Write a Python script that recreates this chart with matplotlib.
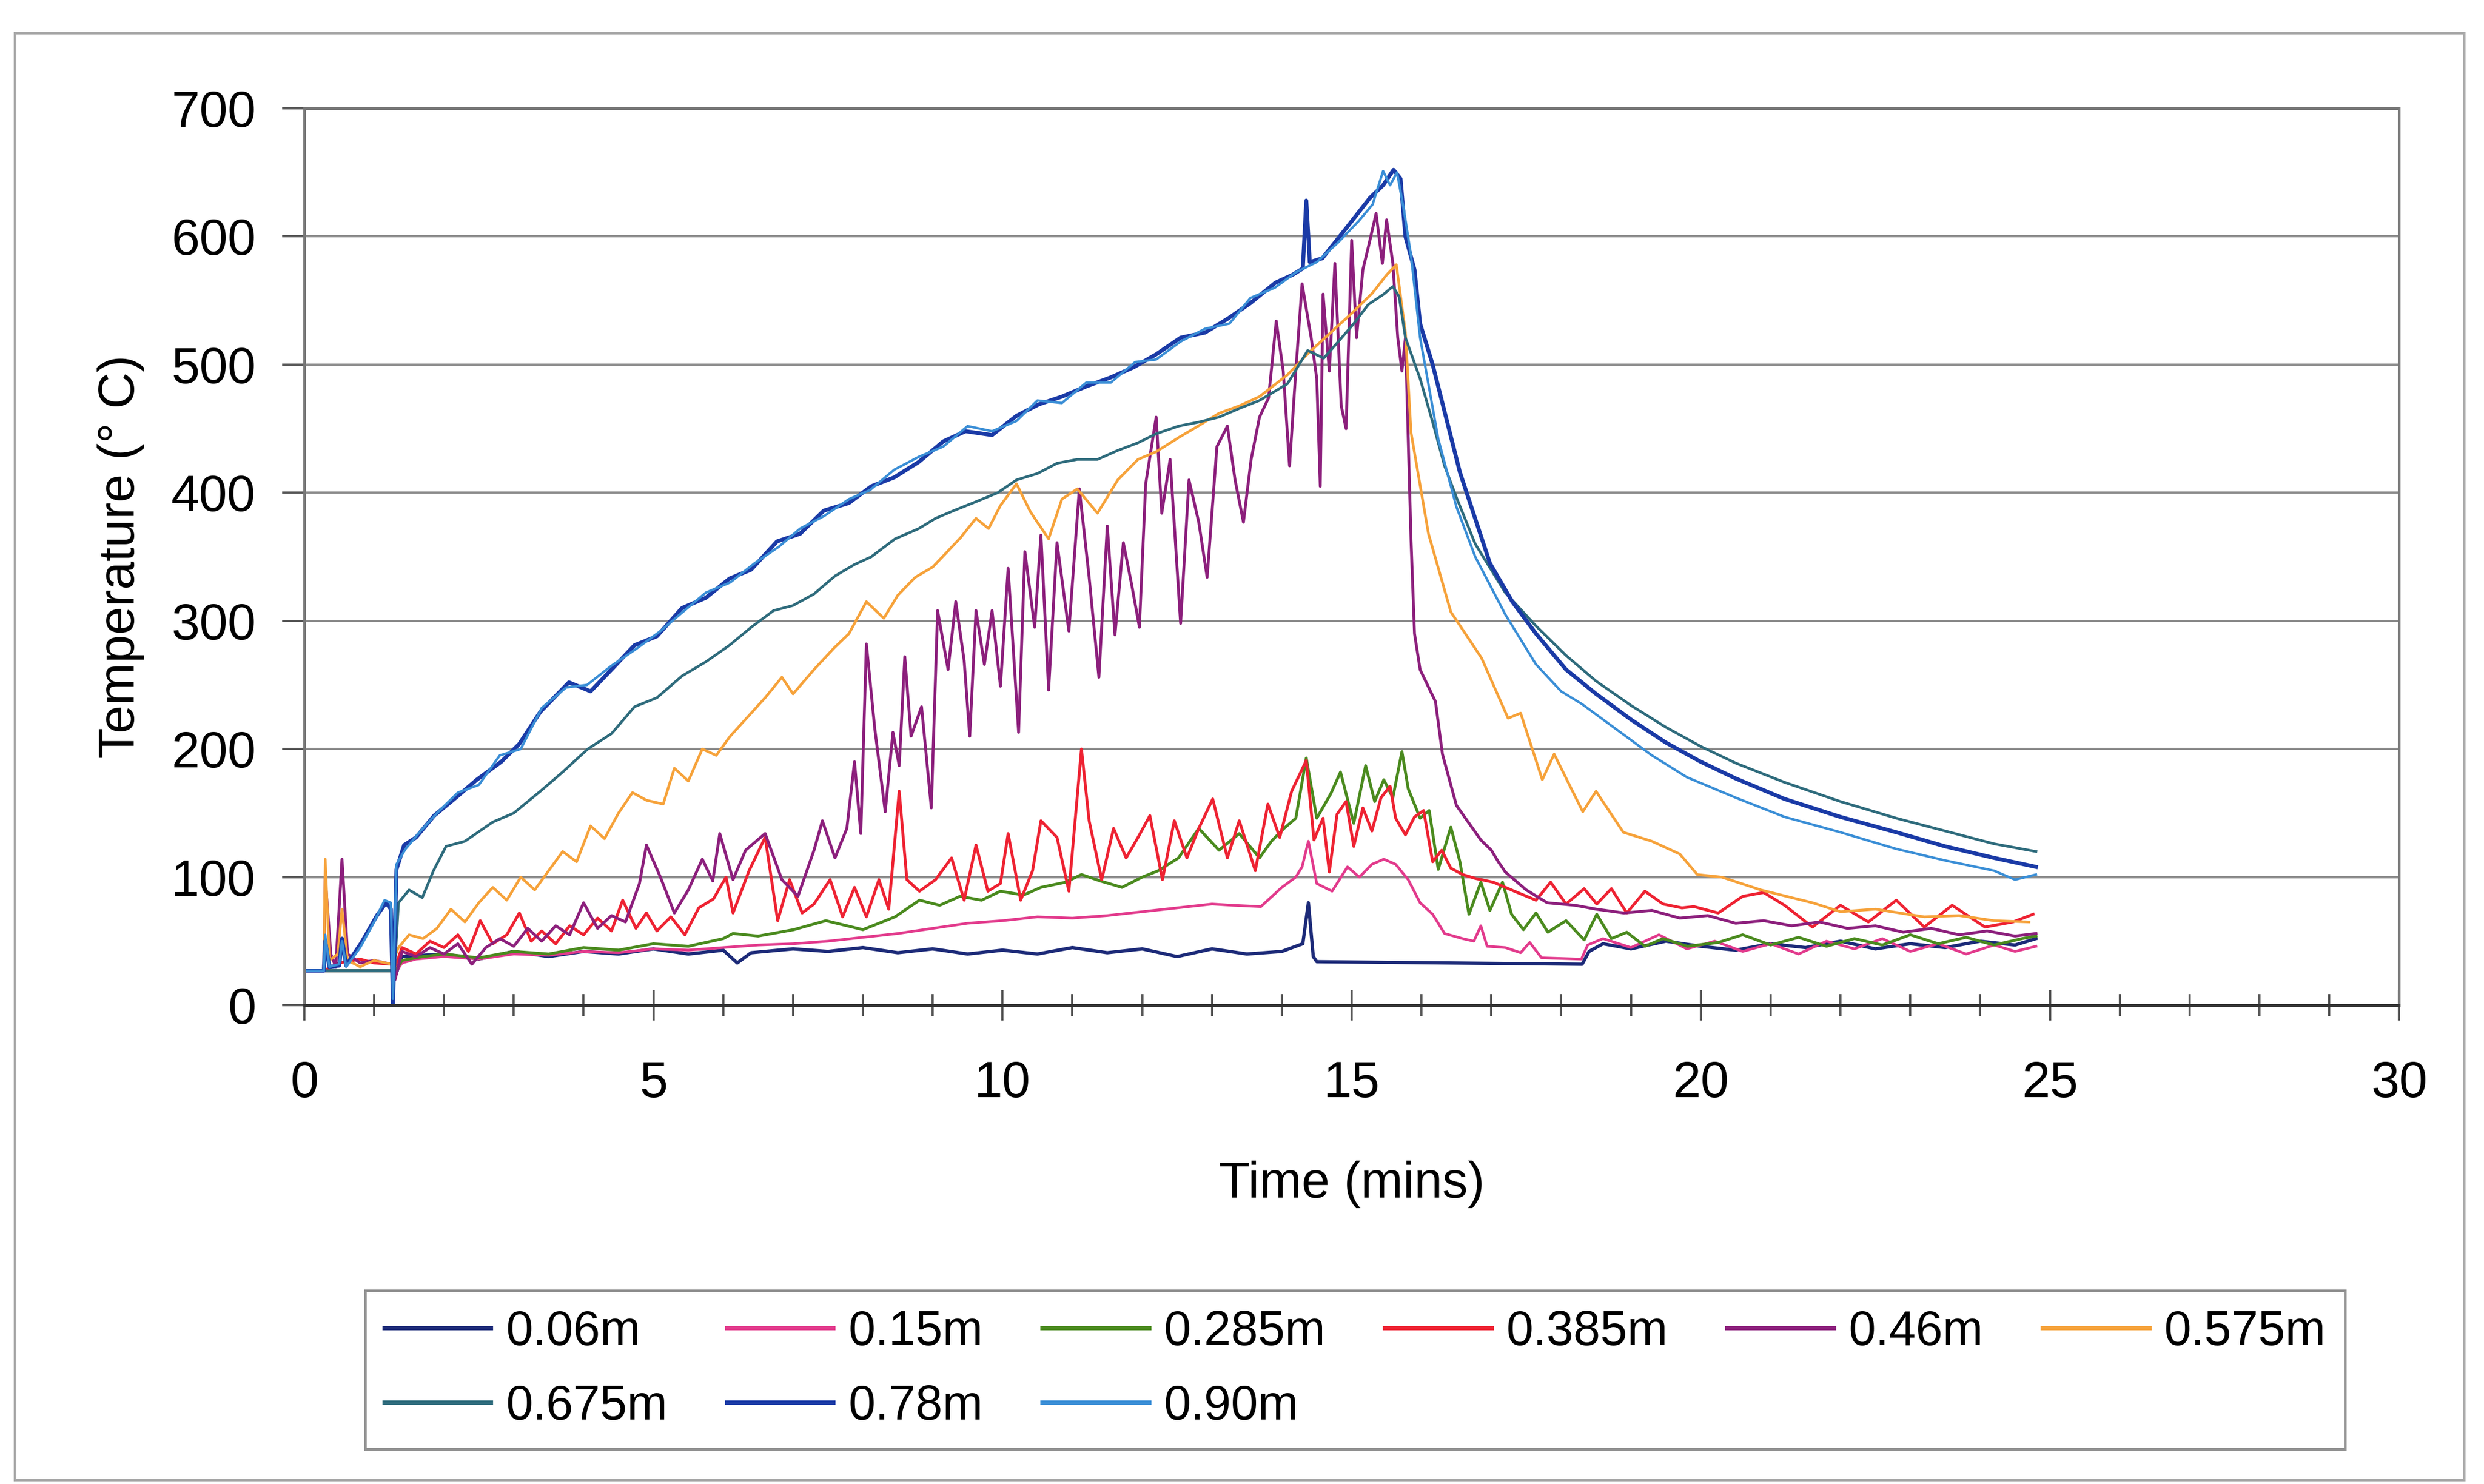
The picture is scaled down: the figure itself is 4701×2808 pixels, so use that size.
import matplotlib
matplotlib.use("Agg")
import matplotlib.pyplot as plt
from matplotlib.patches import Rectangle

plt.rcParams["font.family"] = ["Liberation Sans", "DejaVu Sans"]

# thermocouple heights and line colours
labels = ["0.06m", "0.15m", "0.285m", "0.385m", "0.46m", "0.575m", "0.675m", "0.78m", "0.90m"]
colors = ["#1c2a78", "#e23a8c", "#4a8a1e", "#ee2232", "#8c1f7c", "#f6a23a", "#2e6b7c", "#1a3aa6", "#3a8ed6"]

# time (mins) / temperature (deg C)
t_006 = [0, 1.25, 1.3, 1.4, 2.0, 2.5, 3.0, 3.5, 4.0, 4.5, 5.0, 5.5, 6.0, 6.2, 6.4, 7.0, 7.5, 8.0, 8.5, 9.0,
         9.5, 10.0, 10.5, 11.0, 11.5, 12.0, 12.5, 13.0, 13.5, 14.0, 14.3, 14.38, 14.45, 14.5, 18.3, 18.4,
         18.6, 19.0, 19.5, 20.0, 20.5, 21.0, 21.5, 22.0, 22.5, 23.0, 23.5, 24.0, 24.5, 24.8]
v_006 = [27, 27, 22, 38, 40, 36, 42, 38, 42, 40, 44, 40, 43, 33, 41, 44, 42, 45, 41, 44,
         40, 43, 40, 45, 41, 44, 38, 44, 40, 42, 48, 80, 38, 34, 32, 42,
         48, 44, 50, 46, 43, 48, 45, 50, 44, 48, 45, 50, 47, 52]

t_015 = [0, 1.25, 1.3, 1.4, 1.6, 2.0, 2.5, 3.0, 3.5, 4.0, 4.5, 5.0, 5.5, 6.0, 6.5, 7.0, 7.5, 8.0, 8.5,
         9.0, 9.5, 10.0, 10.5, 11.0, 11.5, 12.0, 12.5, 13.0, 13.3, 13.7, 14.0, 14.2, 14.29, 14.38, 14.5,
         14.72, 14.94, 15.11, 15.29, 15.46, 15.63, 15.81, 15.98, 16.16, 16.33, 16.59, 16.75, 16.85, 16.94,
         17.2, 17.42, 17.55, 17.72, 18.29, 18.38, 18.6, 19.0, 19.4, 19.8, 20.2, 20.6, 21.0, 21.4, 21.8,
         22.2, 22.6, 23.0, 23.4, 23.8, 24.2, 24.5, 24.8]
v_015 = [27, 27, 25, 33, 36, 38, 36, 40, 39, 42, 41, 44, 43, 45, 47, 48, 50, 53, 56,
         60, 64, 66, 69, 68, 70, 73, 76, 79, 78, 77, 92, 100, 108, 128, 95,
         89, 108, 100, 110, 114, 110, 98, 80, 71, 56, 52, 50, 62, 46,
         45, 41, 49, 37, 36, 47, 52, 45, 55, 44, 50, 42, 48, 40, 50,
         44, 52, 42, 48, 40, 47, 42, 46]

t_0285 = [0, 1.25, 1.3, 1.4, 1.7, 2.0, 2.5, 3.0, 3.5, 4.0, 4.5, 5.0, 5.5, 6.0, 6.14, 6.5, 7.01, 7.47, 8.0,
          8.46, 8.81, 9.1, 9.39, 9.7, 9.97, 10.3, 10.55, 10.9, 11.13, 11.4, 11.71, 12.0, 12.23, 12.52,
          12.81, 13.1, 13.39, 13.68, 13.85, 14.03, 14.2, 14.35, 14.5, 14.7, 14.84, 15.03, 15.2, 15.33,
          15.46, 15.59, 15.72, 15.81, 15.98, 16.11, 16.24, 16.42, 16.55, 16.68, 16.85, 16.98, 17.16,
          17.29, 17.46, 17.64, 17.81, 18.07, 18.33, 18.51, 18.72, 18.94, 19.2, 19.46, 19.81, 20.25,
          20.6, 21.0, 21.4, 21.8, 22.2, 22.6, 23.0, 23.4, 23.8, 24.2, 24.6, 24.8]
v_0285 = [27, 27, 26, 35, 38, 40, 37, 42, 40, 45, 43, 48, 46, 52, 56, 54, 59, 66, 59,
          69, 82, 78, 85, 82, 89, 86, 92, 96, 102, 97, 92, 100, 105, 115,
          138, 121, 134, 115, 128, 138, 146, 193, 146, 165, 182, 142, 187, 159,
          176, 162, 198, 169, 146, 152, 106, 139, 112, 71, 96, 74, 96,
          71, 59, 72, 57, 66, 51, 71, 52, 57, 46, 52, 46, 49,
          55, 47, 53, 46, 52, 47, 55, 48, 53, 47, 52, 54]

t_0385 = [0, 0.28, 0.5, 0.8, 1.0, 1.25, 1.3, 1.4, 1.6, 1.8, 2.0, 2.2, 2.35, 2.52, 2.7, 2.9, 3.08, 3.25,
          3.4, 3.6, 3.8, 4.0, 4.2, 4.4, 4.56, 4.75, 4.9, 5.05, 5.25, 5.45, 5.65, 5.86, 6.04, 6.14, 6.37,
          6.6, 6.78, 6.95, 7.13, 7.3, 7.53, 7.71, 7.88, 8.05, 8.23, 8.37, 8.52, 8.63, 8.81, 9.04, 9.27,
          9.45, 9.62, 9.79, 9.97, 10.08, 10.26, 10.43, 10.55, 10.78, 10.95, 11.13, 11.24, 11.42, 11.59,
          11.77, 11.94, 12.11, 12.29, 12.46, 12.64, 12.81, 13.01, 13.22, 13.39, 13.62, 13.8, 13.97,
          14.14, 14.35, 14.46, 14.59, 14.68, 14.79, 14.92, 15.03, 15.16, 15.29, 15.42, 15.55, 15.63,
          15.77, 15.9, 16.03, 16.16, 16.29, 16.42, 16.59, 16.77, 17.03, 17.33, 17.64, 17.85, 18.07,
          18.33, 18.51, 18.72, 18.94, 19.2, 19.46, 19.73, 19.9, 20.25, 20.6, 20.9, 21.2, 21.6, 22.0,
          22.4, 22.8, 23.2, 23.6, 24.07, 24.47, 24.76]
v_0385 = [27, 27, 33, 36, 33, 32, 30, 45, 40, 50, 45, 55, 42, 66, 48, 55, 72, 50,
          58, 48, 62, 55, 68, 58, 82, 60, 72, 58, 69, 55, 76, 83, 100, 72, 105,
          131, 66, 98, 72, 79, 98, 69, 92, 69, 98, 75, 167, 98, 89, 98, 115,
          82, 125, 89, 95, 134, 82, 105, 144, 131, 89, 200, 144, 98, 138,
          115, 131, 148, 98, 144, 115, 138, 161, 115, 144, 105, 157, 131,
          167, 191, 129, 146, 104, 149, 159, 124, 154, 136, 162, 171, 146,
          133, 147, 152, 112, 121, 107, 102, 99, 96, 89, 82, 96, 79,
          91, 79, 91, 72, 89, 79, 76, 77, 72, 85, 88, 78, 61, 78,
          65, 82, 61, 78, 61, 65, 71]

t_046 = [0, 0.28, 0.3, 0.38, 0.45, 0.54, 0.62, 0.8, 1.0, 1.25, 1.3, 1.4, 1.6, 1.8, 2.0, 2.2, 2.4, 2.6, 2.8,
         3.0, 3.2, 3.4, 3.6, 3.8, 4.0, 4.2, 4.4, 4.6, 4.8, 4.9, 5.1, 5.3, 5.5, 5.7, 5.85, 5.95, 6.14,
         6.32, 6.6, 6.84, 7.07, 7.3, 7.42, 7.6, 7.77, 7.88, 7.97, 8.05, 8.17, 8.32, 8.43, 8.52, 8.6,
         8.69, 8.84, 8.98, 9.07, 9.22, 9.33, 9.45, 9.53, 9.62, 9.74, 9.85, 9.97, 10.08, 10.23, 10.32,
         10.46, 10.55, 10.66, 10.78, 10.95, 11.1, 11.24, 11.38, 11.5, 11.61, 11.73, 11.85, 11.96, 12.05,
         12.2, 12.28, 12.4, 12.55, 12.67, 12.81, 12.93, 13.07, 13.22, 13.33, 13.45, 13.56, 13.68, 13.81,
         13.92, 14.02, 14.11, 14.2, 14.29, 14.42, 14.5, 14.55, 14.59, 14.68, 14.76, 14.85, 14.92, 15.0,
         15.07, 15.16, 15.24, 15.35, 15.44, 15.5, 15.59, 15.66, 15.72, 15.77, 15.81, 15.85, 15.9, 15.98,
         16.2, 16.3, 16.5, 16.85, 17.0, 17.1, 17.2, 17.5, 17.8, 18.2, 18.5, 18.9, 19.3, 19.7, 20.1, 20.5,
         20.9, 21.3, 21.7, 22.1, 22.5, 22.9, 23.3, 23.7, 24.1, 24.5, 24.8]
v_046 = [27, 27, 100, 40, 30, 114, 40, 33, 35, 32, 20, 42, 38, 45, 40, 48, 32, 45, 52,
         46, 60, 50, 62, 55, 80, 60, 70, 65, 95, 125, 100, 72, 90, 114, 97, 134, 98,
         121, 134, 98, 85, 121, 144, 115, 138, 190, 134, 282, 216, 151, 213, 187, 272,
         210, 233, 154, 308, 262, 315, 269, 210, 308, 266, 308, 249, 341, 213, 354,
         295, 367, 246, 361, 292, 403, 334, 256, 374, 289, 361, 328, 295, 407,
         459, 384, 426, 298, 410, 377, 334, 436, 452, 410, 377, 426, 459, 474,
         534, 495, 421, 495, 563, 521, 489, 405, 555, 495, 579, 468, 450, 597,
         521, 574, 592, 618, 579, 613, 579, 521, 495, 521, 442, 363, 290, 262,
         237, 196, 156, 129, 121, 112, 104, 90, 80, 78, 75, 72, 74, 68, 70, 64,
         66, 62, 65, 60, 62, 57, 60, 55, 58, 54, 56]

t_0575 = [0, 0.28, 0.3, 0.36, 0.48, 0.54, 0.62, 0.8, 1.0, 1.25, 1.35, 1.5, 1.7, 1.9, 2.1, 2.3, 2.5, 2.7,
          2.9, 3.1, 3.3, 3.5, 3.7, 3.9, 4.1, 4.3, 4.5, 4.7, 4.9, 5.14, 5.3, 5.5, 5.7, 5.9, 6.1, 6.4, 6.6,
          6.84, 7.0, 7.3, 7.59, 7.8, 8.05, 8.3, 8.5, 8.75, 9.0, 9.21, 9.4, 9.62, 9.8, 9.97, 10.2, 10.4,
          10.66, 10.85, 11.07, 11.36, 11.65, 11.94, 12.2, 12.52, 12.8, 13.1, 13.4, 13.68, 14.08, 14.4,
          14.7, 15.0, 15.3, 15.5, 15.64, 15.77, 15.85, 16.1, 16.42, 16.86, 17.24, 17.42, 17.73, 17.9,
          18.31, 18.5, 18.89, 19.3, 19.7, 19.95, 20.3, 20.86, 21.3, 21.6, 22.0, 22.5, 23.2, 23.7, 24.2,
          24.7]
v_0575 = [27, 27, 114, 35, 40, 75, 35, 30, 35, 32, 45, 55, 52, 60, 75, 65, 80, 92,
          82, 100, 90, 105, 120, 112, 140, 130, 150, 166, 160, 157, 185, 175, 200, 195, 210, 228, 240,
          256, 243, 262, 279, 290, 315, 302, 320, 334, 342, 354, 365, 380, 372, 390, 407, 385,
          364, 395, 403, 384, 410, 426, 432, 443, 452, 462, 468, 475, 492, 510,
          525, 540, 556, 570, 578, 525, 447, 368, 307, 271, 224, 228, 176, 196,
          151, 167, 135, 128, 118, 102, 100, 90, 84, 80, 73, 75, 69, 70, 66,
          65]

t_0675 = [0, 1.25, 1.28, 1.35, 1.5, 1.69, 1.85, 2.03, 2.3, 2.7, 3.0, 3.38, 3.7, 4.06, 4.4, 4.73, 5.05,
          5.41, 5.75, 6.09, 6.4, 6.72, 7.0, 7.3, 7.6, 7.88, 8.12, 8.46, 8.8, 9.04, 9.3, 9.62, 9.93, 10.2,
          10.5, 10.78, 11.07, 11.36, 11.65, 11.94, 12.2, 12.52, 12.8, 13.1, 13.4, 13.68, 14.08, 14.37,
          14.6, 14.81, 15.03, 15.24, 15.46, 15.59, 15.68, 15.77, 15.98, 16.16, 16.33, 16.51, 16.77, 17.2,
          17.64, 18.07, 18.5, 19.0, 19.5, 20.0, 20.5, 21.2, 22.0, 22.8, 23.5, 24.2, 24.8]
v_0675 = [27, 27, 15, 80, 90, 84, 105, 124, 128, 143, 150, 167, 182, 200, 212, 233, 240,
          257, 268, 281, 295, 308, 312, 321, 335, 344, 350, 364, 372, 380, 386, 393, 400, 410,
          415, 423, 426, 426, 433, 439, 446, 452, 455, 459, 466, 472, 485, 511,
          505, 518, 532, 547, 555, 561, 553, 521, 489, 455, 421, 395, 360, 322,
          296, 273, 253, 234, 217, 202, 189, 174, 159, 146, 136, 126, 120]

t_078 = [0, 0.28, 0.3, 0.36, 0.5, 0.54, 0.6, 0.82, 1.04, 1.17, 1.24, 1.27, 1.32, 1.43, 1.6, 1.86, 2.17,
         2.47, 2.82, 3.08, 3.38, 3.79, 4.1, 4.4, 4.73, 5.05, 5.41, 5.75, 6.09, 6.4, 6.77, 7.1, 7.44, 7.8,
         8.12, 8.45, 8.8, 9.15, 9.47, 9.85, 10.2, 10.52, 10.85, 11.2, 11.55, 11.88, 12.2, 12.55, 12.9,
         13.23, 13.55, 13.91, 14.15, 14.3, 14.35, 14.4, 14.58, 14.93, 15.26, 15.45, 15.6, 15.7, 15.77,
         15.9, 15.98, 16.16, 16.55, 16.98, 17.3, 17.64, 18.07, 18.5, 19.0, 19.5, 20.0, 20.5, 21.2, 22.0,
         22.8, 23.5, 24.2, 24.8]
v_078 = [27, 27, 50, 30, 31, 52, 31, 49, 70, 80, 75, 0, 106, 125, 131, 148, 162,
         176, 190, 204, 229, 252, 245, 262, 281, 288, 310, 318, 333, 340, 362, 368, 386, 392,
         405, 412, 424, 440, 448, 445, 460, 469, 475, 483, 490, 498, 508, 521, 525,
         536, 548, 564, 570, 575, 628, 580, 583, 607, 630, 640, 652, 645, 600,
         574, 532, 500, 416, 345, 315, 290, 262, 243, 223, 205, 190, 177, 161, 147,
         135, 124, 115, 108]

t_090 = [0, 0.28, 0.3, 0.36, 0.5, 0.54, 0.6, 0.8, 1.0, 1.15, 1.24, 1.27, 1.32, 1.45, 1.65, 1.9, 2.2, 2.5,
         2.8, 3.1, 3.4, 3.75, 4.05, 4.4, 4.75, 5.1, 5.4, 5.75, 6.1, 6.45, 6.8, 7.1, 7.45, 7.8, 8.1, 8.45,
         8.8, 9.15, 9.5, 9.85, 10.2, 10.5, 10.85, 11.2, 11.55, 11.9, 12.2, 12.55, 12.9, 13.25, 13.55,
         13.9, 14.2, 14.5, 14.8, 15.1, 15.3, 15.45, 15.55, 15.65, 15.75, 15.85, 15.98, 16.24, 16.5,
         16.77, 17.2, 17.64, 18.0, 18.3, 18.8, 19.3, 19.8, 20.5, 21.2, 22.0, 22.8, 23.5, 24.2, 24.5, 24.8]
v_090 = [27, 27, 55, 30, 32, 50, 30, 45, 65, 82, 80, 5, 110, 122, 135, 150, 166, 172,
         195, 200, 232, 248, 250, 265, 278, 292, 306, 322, 330, 345, 358, 372, 382, 395, 402, 418,
         428, 436, 452, 448, 456, 472, 470, 486, 486, 502, 504, 518, 528, 532, 552,
         560, 572, 580, 595, 612, 625, 651, 640, 650, 620, 585, 521, 442, 389,
         350, 305, 266, 245, 235, 215, 195, 178, 162, 147, 135, 122, 113, 105, 98, 102]

series_t = [t_006, t_015, t_0285, t_0385, t_046, t_0575, t_0675, t_078, t_090]
series_v = [v_006, v_015, v_0285, v_0385, v_046, v_0575, v_0675, v_078, v_090]
widths = [1.5, 1.2, 1.3, 1.3, 1.3, 1.2, 1.2, 1.8, 1.1]

fig = plt.figure(figsize=(15.67, 9.36), dpi=300)
ax = fig.add_axes([0.1225, 0.3226, 0.8433, 0.6044])

handles = {}
for lab, col, t, v, lw in zip(labels, colors, series_t, series_v, widths):
    (ln,) = ax.plot(t, v, color=col, lw=lw, label=lab)
    handles[lab] = ln

ax.set_xlim(0, 30)
ax.set_ylim(0, 700)
ax.set_xticks(range(0, 31, 5))
ax.set_xticks(range(0, 31), minor=True)
ax.set_yticks(range(0, 701, 100))
ax.yaxis.grid(True, color="#8a8a8a", lw=1.0)
ax.set_axisbelow(True)
for side in ["top", "right", "left", "bottom"]:
    ax.spines[side].set_color("#777777")
    ax.spines[side].set_linewidth(1.2)
ax.spines["bottom"].set_color("#333333")
ax.tick_params(axis="x", which="both", direction="inout", length=14, width=1.0, color="#555555",
               labelsize=23, pad=18)
ax.tick_params(axis="x", which="minor", length=10)
ax.tick_params(axis="y", direction="out", length=10, width=1.0, color="#555555", labelsize=23, pad=12)
ax.set_xlabel("Time (mins)", fontsize=23, labelpad=24)
ax.set_ylabel("Temperature (° C)", fontsize=23, labelpad=12)

# legend fills column-wise, so order for a two-row, six-column layout
order = ["0.06m", "0.675m", "0.15m", "0.78m", "0.285m", "0.90m", "0.385m", "0.46m", "0.575m"]
leg = fig.legend([handles[k] for k in order], order, ncol=6, loc="center",
                 bbox_to_anchor=(0.147, 0.016, 0.797, 0.122), mode="expand",
                 fontsize=22, frameon=True, fancybox=False, handlelength=2.2,
                 handletextpad=0.3, columnspacing=0.8, borderaxespad=0.0, labelspacing=0.6)
leg.get_frame().set_edgecolor("#777777")
leg.get_frame().set_linewidth(1.2)
for ln in leg.get_lines():
    ln.set_linewidth(2)

fig.patches.append(Rectangle((0.006, 0.003), 0.986, 0.975, transform=fig.transFigure,
                             fill=False, edgecolor="#aaaaaa", lw=1.2))

fig.savefig("out.png", dpi=300, facecolor="white")
